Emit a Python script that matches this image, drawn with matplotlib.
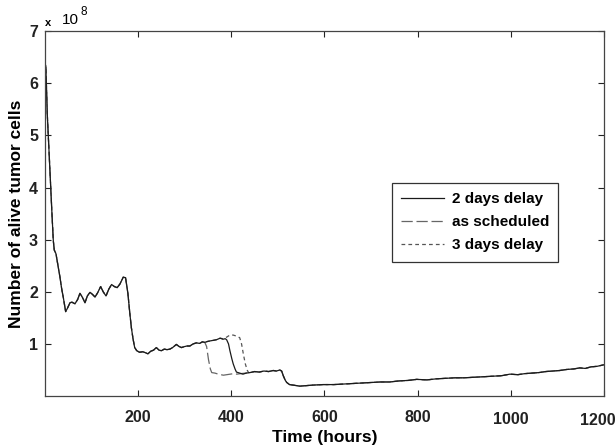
import numpy as np
import matplotlib
matplotlib.use("Agg")
import matplotlib.pyplot as plt
import matplotlib.transforms as mtransforms
from matplotlib.ticker import ScalarFormatter

plt.rcParams['font.family'] = ['Liberation Sans', 'DejaVu Sans']

SCALE = 1e8

# common part (all three schedules identical), time in hours, cells in 1e8
t_pre = [0, 2, 5, 8.6, 12.2, 15, 17.9, 20, 23.6, 28, 32.2, 36, 39.4, 42, 44.4, 48, 53.7,
         58, 64.4, 70, 75.1, 80, 85.9, 91, 96.6, 102, 107.4, 113, 119.5, 125, 131, 137,
         143, 149, 155, 161, 168, 173, 178, 182, 185.5, 189, 192.6, 197, 203, 210, 216,
         221, 227, 233, 239, 245, 250, 256, 262, 268, 274, 282, 288, 293, 300, 305, 311,
         318, 325, 332, 338, 343]
v_pre = [6.40, 6.30, 5.40, 4.71, 4.00, 3.50, 2.98, 2.80, 2.73, 2.50, 2.28, 2.05, 1.89, 1.75,
         1.62, 1.68, 1.79, 1.80, 1.77, 1.85, 1.97, 1.90, 1.79, 1.92, 1.99, 1.95, 1.90, 1.98,
         2.10, 2.00, 1.92, 2.05, 2.14, 2.10, 2.08, 2.15, 2.28, 2.27, 1.97, 1.60, 1.31, 1.10,
         0.93, 0.87, 0.84, 0.85, 0.83, 0.81, 0.86, 0.88, 0.93, 0.88, 0.87, 0.90, 0.89, 0.90,
         0.93, 0.99, 0.95, 0.93, 0.95, 0.96, 0.96, 1.00, 1.02, 1.01, 1.04, 1.03]

# divergent part
t_sched = [343, 347, 351, 355, 358, 365, 372, 378, 383, 390, 398, 405, 412, 420, 430, 440]
v_sched = [1.03, 0.95, 0.70, 0.52, 0.45, 0.44, 0.42, 0.41, 0.40, 0.41, 0.42, 0.43, 0.42, 0.43, 0.44, 0.45]

t_two = [343, 350, 356, 362, 368, 376, 382, 387, 390, 394, 397, 401, 404, 408, 411, 418, 425, 432, 440]
v_two = [1.03, 1.05, 1.06, 1.07, 1.08, 1.11, 1.09, 1.10, 1.08, 1.00, 0.87, 0.72, 0.62, 0.52, 0.46, 0.44, 0.42, 0.44, 0.45]

t_three = [343, 350, 356, 362, 368, 376, 382, 390, 397, 404, 411, 418, 422, 426, 430, 434, 437, 440]
v_three = [1.03, 1.05, 1.06, 1.07, 1.08, 1.11, 1.10, 1.13, 1.17, 1.17, 1.15, 1.12, 1.00, 0.80, 0.62, 0.50, 0.45, 0.45]

t_post = [440, 450, 460, 470, 480, 490, 497, 504, 508, 512, 516, 519, 525, 533, 540, 547, 560,
          575, 597, 620, 640, 660, 680, 700, 720, 740, 760, 780, 798, 820, 840, 860, 880,
          900, 920, 940, 960, 980, 998, 1015, 1030, 1045, 1060, 1075, 1090, 1105, 1120,
          1135, 1148, 1160, 1172, 1185, 1200]
v_post = [0.45, 0.47, 0.46, 0.48, 0.47, 0.49, 0.48, 0.50, 0.48, 0.38, 0.30, 0.26, 0.22, 0.21,
          0.20, 0.19, 0.20, 0.21, 0.22, 0.22, 0.23, 0.24, 0.25, 0.26, 0.27, 0.27, 0.29, 0.30,
          0.32, 0.31, 0.33, 0.34, 0.35, 0.35, 0.36, 0.37, 0.38, 0.39, 0.42, 0.41, 0.43, 0.44,
          0.45, 0.47, 0.48, 0.49, 0.51, 0.52, 0.54, 0.53, 0.56, 0.57, 0.60]

labels = ["2 days delay", "as scheduled", "3 days delay"]
xticks = [200, 400, 600, 800, 1000, 1200]
yticks = [1, 2, 3, 4, 5, 6, 7]

def series(tm, vm):
    t = np.array(t_pre + tm[1:] + t_post[1:])
    v = np.array(v_pre + vm[1:] + v_post[1:]) * SCALE
    return t, v

fig = plt.figure(figsize=(6.16, 4.45), dpi=100)
ax = fig.add_axes([0.073, 0.110, 0.9075, 0.820])

t3, v3 = series(t_three, v_three)
ts, vs = series(t_sched, v_sched)
t2, v2 = series(t_two, v_two)
l3, = ax.plot(t3, v3, color='#555555', lw=0.9, ls=(0, (3, 2.5)))
ls_, = ax.plot(ts, vs, color='#666666', lw=0.9, ls=(0, (9, 3)))
l2, = ax.plot(t2, v2, color='#1a1a1a', lw=0.9, ls='-')

ax.set_xlim(0, 1200)
ax.set_ylim(0, 7 * SCALE)
ax.set_xticks(xticks)
ax.set_yticks([y * SCALE for y in yticks])
fmt = ScalarFormatter()
ax.yaxis.set_major_formatter(fmt)
ax.yaxis.get_offset_text().set_visible(False)
ax.tick_params(direction='in', top=True, right=True, length=4, width=0.8,
               labelsize=11.5, colors='#222222')
ax.tick_params(axis='x', pad=10)
ax.tick_params(axis='y', pad=5)
for lab in ax.get_xticklabels() + ax.get_yticklabels():
    lab.set_fontweight('bold')
for sp in ax.spines.values():
    sp.set_color('#444444')
    sp.set_linewidth(0.9)

# shift the last x tick labels a little (staggered as in the original)
last = ax.get_xticklabels()[-1]
last.set_transform(last.get_transform() +
                   mtransforms.ScaledTranslation(-6 / 100, -3 / 100, fig.dpi_scale_trans))
prev = ax.get_xticklabels()[-2]
prev.set_transform(prev.get_transform() +
                   mtransforms.ScaledTranslation(0, -2 / 100, fig.dpi_scale_trans))

ax.text(0.0, 1.008, "x", transform=ax.transAxes, fontsize=8, fontweight='bold',
        ha='left', va='bottom')
ax.text(0.03, 1.012, "10", transform=ax.transAxes, fontsize=11, ha='left', va='bottom')
ax.text(0.063, 1.035, "8", transform=ax.transAxes, fontsize=8.5, ha='left', va='bottom')

ax.set_xlabel("Time (hours)", fontsize=12.5, fontweight='bold')
ax.xaxis.set_label_coords(0.5, -0.092)
ax.set_ylabel("Number of alive tumor cells", fontsize=12.5, fontweight='bold')
ax.yaxis.set_label_coords(-0.037, 0.5)

leg = ax.legend([l2, ls_, l3], labels, loc='upper left', bbox_to_anchor=(0.621, 0.584),
                borderaxespad=0, frameon=True, fancybox=False, edgecolor='#333333',
                framealpha=1, prop={'weight': 'bold', 'size': 11}, handlelength=2.8,
                borderpad=0.6, labelspacing=0.6, handletextpad=0.5)
leg.get_frame().set_linewidth(0.9)

fig.savefig("out.png", dpi=100)
